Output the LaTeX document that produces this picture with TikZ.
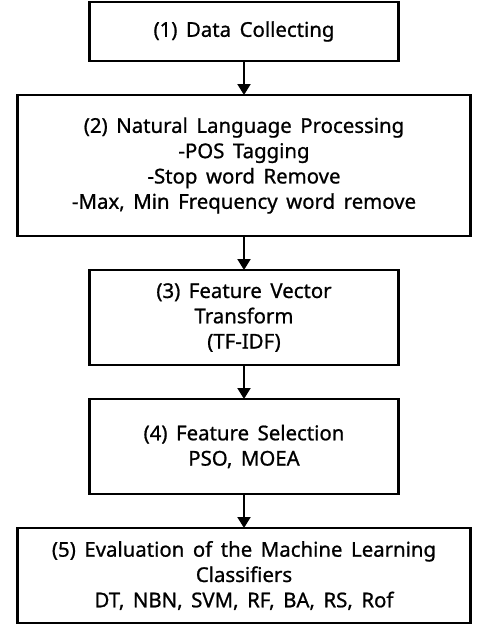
\documentclass[tikz,border=0pt]{standalone}
\usepackage{fontspec}
\newfontfamily\stagefont{Noto Sans}[FakeBold=0.9]
\usetikzlibrary{positioning,arrows.meta}

\newcommand\stagesetup{\stagefont\fontsize{11.6}{14.4}\selectfont\spaceskip 0.42em\relax}

\tikzset{
  stage/.style={draw,line width=1.6pt,outer sep=0pt,align=center,inner sep=2pt,font=\stagesetup},
  narrowstage/.style={stage,minimum width=6.18cm},
  widestage/.style={stage,minimum width=9.06cm},
  flow/.style={-{Triangle[length=0.22cm,width=0.26cm]},line width=1.2pt}
}

\begin{document}
\begin{tikzpicture}[node distance=0.68cm]
    \useasboundingbox (0,0) rectangle (9.64,-12.52);

    \node[narrowstage,minimum height=1.18cm] (collect) at (4.88,-0.63) {(1) Data Collecting};
    \node[widestage,minimum height=2.82cm,below=of collect] (nlp)
        {(2) Natural Language Processing\\-POS Tagging\\-Stop word Remove\\-Max, Min Frequency word remove};
    \node[narrowstage,minimum height=1.9cm,below=of nlp] (vector)
        {(3) Feature Vector\\Transform\\(TF-IDF)};
    \node[narrowstage,minimum height=1.9cm,below=of vector] (select)
        {(4) Feature Selection\\PSO, MOEA};
    \node[widestage,minimum height=1.9cm,below=of select] (eval)
        {(5) Evaluation of the Machine Learning\\Classifiers\\DT, NBN, SVM, RF, BA, RS, Rof};

    % arrows between stages
    \draw[flow] (collect) -- (nlp);
    \draw[flow] (nlp) -- (vector);
    \draw[flow] (vector) -- (select);
    \draw[flow] (select) -- (eval);
\end{tikzpicture}
\end{document}
